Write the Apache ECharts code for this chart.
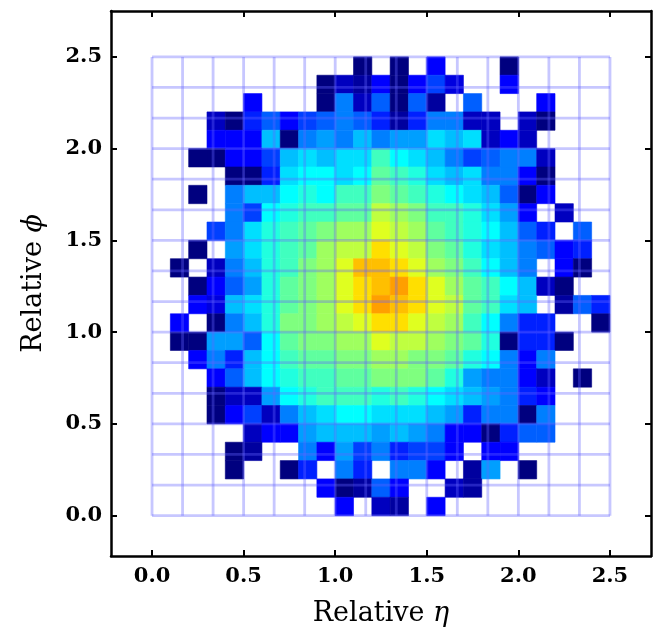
<!DOCTYPE html>
<html><head><meta charset="utf-8">
<script src="https://cdn.jsdelivr.net/npm/echarts@6/dist/echarts.min.js"></script>
<style>html,body{margin:0;padding:0;background:#fff}#c{width:657px;height:638px}</style>
</head><body><div id="c"></div>
<script>
// Bin size of the 2D histogram (relative eta / phi units)
const binSize = 0.1;
// Rows from top (phi 2.4-2.5) to bottom (phi 0.0-0.1); columns eta 0.0 .. 2.4; 0 = empty bin
const counts = [
  [0,0,0,0,0,0,0,0,0,0,0,1,0,1,0,3,0,0,0,1,0,0,0,0,0],
  [0,0,0,0,0,0,0,0,0,1,2,1.5,3,1,3,4,2.5,0,0,3,0,0,0,0,0],
  [0,0,0,0,0,3,0,0,0,1,5,2,4.5,1,4.5,1.5,0,4.5,0,0,0,3,0,0,0],
  [0,0,0,2,1,3.5,4.5,3,4,4.5,5,4.5,3.5,1.5,3.5,5,5,2,2,0,2,1,0,0,0],
  [0,0,0,3,3,3,6,1,5,5.5,5,6,5,5.5,5.5,6.5,6,6.5,2,3,2,0,0,0,0],
  [0,0,1,1,3,3,4,6,6.5,6,6.5,6.5,8,7,6.5,6,5,4,4.5,5,5,2,0,0,0],
  [0,0,0,0,1,1,3.5,6.5,7,7,6.5,7,8.5,8,7.5,6.5,6,6.5,5,5,3,1,0,0,0],
  [0,0,1,0,5,6,6,7,7.5,7,8,8,9,8.5,8,7.5,7,6.5,6,4.5,1,3,0,0,0],
  [0,0,0,0,5,4,7,7.5,8,8,8.5,8.5,10,9.5,9,8,8,7.5,6.5,5.5,3,0,2,0,0],
  [0,0,0,4,5,6.5,7.5,8,8.5,9,9.5,9.5,10.5,10,9.5,8.5,8,7.5,7,6,4.5,3.5,0,4.5,0],
  [0,0,1,0,5.5,6.5,7.5,8,8.5,9.5,10,10,11.5,10.5,10,9,8.5,7.5,6.5,6,5,4.5,3,3.5,0],
  [0,1,0,2,5,6,7.5,8,9,9.5,10.5,12,12,11.5,10.5,9.5,9,8,7,6,5,0,3,1,0],
  [0,0,1,3,4.5,5.5,7.5,8.5,9,9.5,10.5,11.5,12,12.5,11.5,10.5,9.5,8.5,8,7,6,2,1,0,0],
  [0,0,3,2.5,6,6.5,7.5,8.5,9,9.5,10.5,11.5,12.5,12,11.5,10.5,10,8.5,8,6.5,6,0,1.5,4.5,3.5],
  [0,3,0,1,5,6,7.5,9,9,9.5,10,10.5,11.5,11.5,10.5,10,9.5,8,7,5,3.5,3.5,0,0,1],
  [0,1,1,5.5,5.5,4.5,7,8.5,9,9,9.5,9.5,10.5,10,10,9.5,9,8.5,7.5,1,3.5,3.5,1,0,0],
  [0,0,3,5,3.5,6,7,8,8.5,8.5,9,9,9.5,9.5,9,9,8.5,7.5,7,5,3,5,0,0,0],
  [0,0,0,3,4.5,6,7,7.5,8,8,8.5,8.5,9,9,9,8.5,7.5,5.5,5,5,3,2,0,1,0],
  [0,0,0,1,2,2,5.5,7,7.5,8,8,8,7.5,8,7.5,7,6.5,6,5.5,5,3.5,3,0,0,0],
  [0,0,0,1,3,4,2,5,6,6.5,7,7,6.5,6.5,6.5,6,5.5,3.5,5,5,1,5,0,0,0],
  [0,0,0,0,0,2,3,3,5.5,6,6,6,5.5,6,5.5,5,3,3,1,3.5,4.5,4.5,0,0,0],
  [0,0,0,0,1,1.5,0,0,5,3,5.5,4,5,3.5,4,4,3,0,3,3,0,0,0,0,0],
  [0,0,0,0,1,0,0,1,3.5,0,5,3.5,0,5,5,3,0,1.5,5.5,0,1,0,0,0,0],
  [0,0,0,0,0,0,0,0,0,3,1,1.5,4.5,3,0,0,2,1.5,0,0,0,0,0,0,0],
  [0,0,0,0,0,0,0,0,0,0,3,0,2,1.5,0,3,0,0,0,0,0,0,0,0,0]
];
const tickValues = [0, 0.5, 1.0, 1.5, 2.0, 2.5];
const overlayExtent = [0, 2.5];
const overlayDivisions = 15;
const xRange = [-0.224, 2.724];
const yRange = [-0.22, 2.75];
const levelRange = [1, 17];
const jetColors = ['#00007f','#0000ff','#007fff','#00ffff','#7fff7f','#ffff00','#ff7f00','#ff0000','#7f0000'];

const cellData = [];
counts.forEach((row, r) => {
  const yi = counts.length - 1 - r;
  row.forEach((v, c) => { if (v > 0) cellData.push([c * binSize, yi * binSize, v]); });
});
const overlayEdges = [];
for (let i = 0; i <= overlayDivisions; i++) {
  const e = overlayExtent[0] + i * (overlayExtent[1] - overlayExtent[0]) / overlayDivisions;
  overlayEdges.push([e, e]);
}

const tickFont = { fontFamily: 'DejaVu Serif', fontWeight: 'bold', fontSize: 21, color: '#000' };
const nameFont = { fontFamily: 'DejaVu Serif', fontSize: 27, color: '#000',
  rich: { i: { fontFamily: 'DejaVu Serif', fontStyle: 'italic', fontSize: 27, color: '#000' } } };
const lineStyle = { color: '#000', width: 2.5 };
const tick = { show: true, inside: true, length: 6, lineStyle: { color: '#000', width: 2 }, customValues: tickValues };

function axis(pos, range, extra) {
  return Object.assign({
    type: 'value', position: pos, min: range[0], max: range[1],
    axisLine: { show: true, onZero: false, lineStyle },
    axisTick: tick,
    splitLine: { show: false },
    axisLabel: { show: false }
  }, extra);
}

const chart = echarts.init(document.getElementById('c'));
chart.setOption({
  animation: false,
  backgroundColor: '#fff',
  grid: { left: 111, right: 6, top: 11, bottom: 82 },
  xAxis: [
    axis('bottom', xRange, {
      axisLabel: Object.assign({ show: true, customValues: tickValues, margin: 10, formatter: v => v.toFixed(1) }, tickFont),
      name: 'Relative {i|η}', nameLocation: 'middle', nameGap: 44, nameTextStyle: nameFont
    }),
    axis('top', xRange, {})
  ],
  yAxis: [
    axis('left', yRange, {
      axisLabel: Object.assign({ show: true, customValues: tickValues, margin: 9, formatter: v => v.toFixed(1) }, tickFont),
      name: 'Relative {i|ϕ}', nameLocation: 'middle', nameGap: 64, nameTextStyle: nameFont
    }),
    axis('right', yRange, {})
  ],
  visualMap: {
    show: false, type: 'continuous', seriesIndex: 0, dimension: 2,
    min: levelRange[0], max: levelRange[1], inRange: { color: jetColors }
  },
  series: [
    {
      type: 'custom', xAxisIndex: 0, yAxisIndex: 0, data: cellData,
      encode: { x: 0, y: 1 }, z: 2,
      renderItem(params, api) {
        const x = api.value(0), y = api.value(1);
        const p0 = api.coord([x, y + binSize]);
        const p1 = api.coord([x + binSize, y]);
        const col = api.visual('color');
        return { type: 'rect', shape: { x: p0[0], y: p0[1], width: p1[0] - p0[0], height: p1[1] - p0[1] },
          style: { fill: col, stroke: col, lineWidth: 0.6 } };
      }
    },
    {
      type: 'custom', xAxisIndex: 0, yAxisIndex: 0, data: overlayEdges,
      encode: { x: 0, y: 1 }, z: 3, silent: true,
      renderItem(params, api) {
        const e = api.value(0);
        const a0 = api.coord([e, overlayExtent[0]]), a1 = api.coord([e, overlayExtent[1]]);
        const b0 = api.coord([overlayExtent[0], e]), b1 = api.coord([overlayExtent[1], e]);
        const st = { stroke: 'rgba(100,100,255,0.36)', lineWidth: 2.8, fill: null };
        return { type: 'group', children: [
          { type: 'line', shape: { x1: a0[0], y1: a0[1], x2: a1[0], y2: a1[1] }, style: st },
          { type: 'line', shape: { x1: b0[0], y1: b0[1], x2: b1[0], y2: b1[1] }, style: st }
        ] };
      }
    }
  ]
});
</script></body></html>
